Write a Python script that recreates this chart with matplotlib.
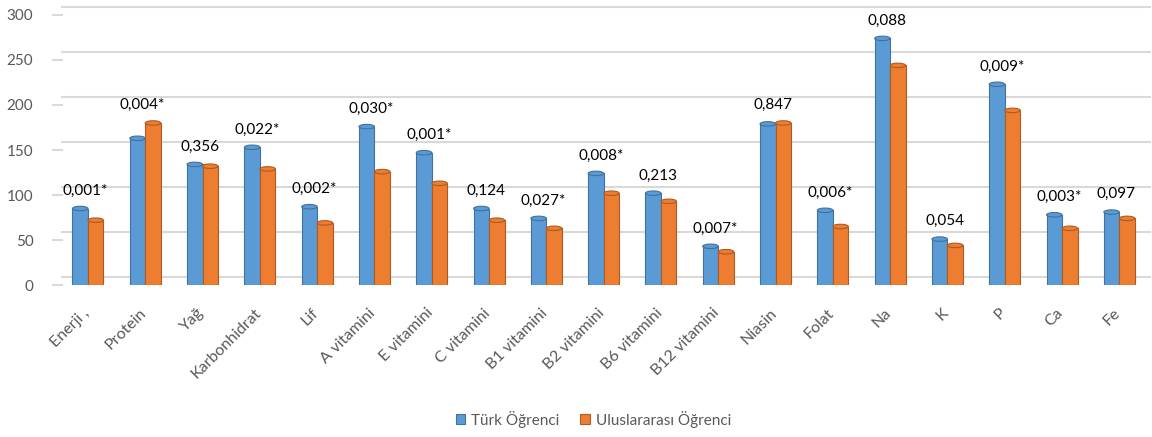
import numpy as np
import matplotlib
matplotlib.use("Agg")
import matplotlib.pyplot as plt
from matplotlib.patches import Ellipse
from matplotlib.transforms import ScaledTranslation

plt.rcParams["font.family"] = ["Lato", "DejaVu Sans"]

categories = ["Enerji ,", "Protein", "Yağ", "Karbonhidrat", "Lif", "A vitamini",
              "E vitamini", "C vitamini", "B1 vitamini", "B2 vitamini", "B6 vitamini",
              "B12 vitamini", "Niasin", "Folat", "Na", "K", "P", "Ca", "Fe"]
turk = [85, 163, 134, 153, 87, 176, 147, 85, 74, 124, 102, 43, 179, 83, 274, 51, 223, 78, 81]
intl = [72, 180, 132, 129, 69, 126, 113, 72, 63, 102, 93, 37, 180, 65, 244, 44, 194, 63, 74]
p_labels = ["0,001*", "0,004*", "0,356", "0,022*", "0,002*", "0,030*", "0,001*", "0,124",
            "0,027*", "0,008*", "0,213", "0,007*", "0,847", "0,006*", "0,088", "0,054",
            "0,009*", "0,003*", "0,097"]
series_names = ["Türk Öğrenci", "Uluslararası Öğrenci"]

BLUE = "#5B9BD5"
ORANGE = "#ED7D31"
GRAY = "#595959"

fig = plt.figure(figsize=(11.52, 4.37), dpi=100)
ax = fig.add_axes([0.0495, 0.3478, 0.9485, 0.6179])

x = np.arange(len(categories))
w = 0.27
for vals, off_x, col, edge, name in [(turk, -w / 2, BLUE, "#41719C", series_names[0]),
                                     (intl, w / 2, ORANGE, "#AE5A21", series_names[1])]:
    ax.bar(x + off_x, vals, w, color=col, edgecolor=edge, linewidth=0.8,
           label=name, zorder=3)
    # rounded cylinder caps
    for xi, v in zip(x, vals):
        ax.add_patch(Ellipse((xi + off_x, v), w, 5, facecolor=col, edgecolor=edge,
                             linewidth=0.8, zorder=3.5))

# p-value labels above each pair
for i, lab in enumerate(p_labels):
    top = max(turk[i], intl[i])
    ax.text(x[i] - 0.05, top + 12, lab, ha="center", va="bottom",
            fontsize=11, color="black", zorder=4)

ax.set_xlim(-0.54, 18.53)
ax.set_ylim(0, 300)
ax.set_yticks(np.arange(0, 301, 50))

# back-wall gridlines, shifted up a bit like the 3D chart
shift = ScaledTranslation(0, 8 / 100, fig.dpi_scale_trans)
for v in range(0, 301, 50):
    ax.plot([0.005, 1.0], [v, v], transform=ax.get_yaxis_transform() + shift,
            color="#D9D9D9", lw=1.5, zorder=1, clip_on=False)
    ax.plot([-0.004, 0.005], [v, v], transform=ax.get_yaxis_transform(),
            color="#D9D9D9", lw=1.5, zorder=1, clip_on=False)

for s in ax.spines.values():
    s.set_visible(False)
ax.tick_params(axis="both", length=0, colors=GRAY)
ax.tick_params(axis="y", labelsize=11, pad=17)

ax.set_xticks(x)
ax.set_xticklabels(categories, rotation=45, ha="right", va="top",
                   rotation_mode="anchor", fontsize=11.5, color=GRAY)
off = ScaledTranslation(-6 / 100, -16 / 100, fig.dpi_scale_trans)
for t in ax.get_xticklabels():
    t.set_transform(t.get_transform() + off)

fig.legend(loc="lower center", bbox_to_anchor=(0.515, -0.01), ncol=2, frameon=False,
           fontsize=11, labelcolor=GRAY, handlelength=0.6, handleheight=0.6,
           handletextpad=0.4, columnspacing=1.4)

fig.savefig("out.png", dpi=100)
